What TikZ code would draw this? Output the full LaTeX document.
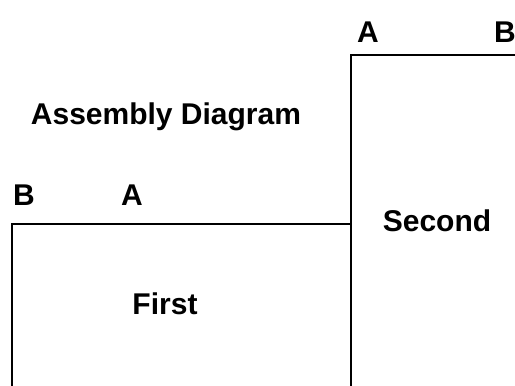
\documentclass[tikz,border=0pt]{standalone}
\usepackage{fontspec}
\setmainfont{Liberation Sans}
\begin{document}
\begin{tikzpicture}[x=1pt,y=-1pt,
  lbl/.style={font=\bfseries\fontsize{30}{34}\selectfont, inner sep=0pt, anchor=center},
  part/.style={draw=black, line width=2.3pt, fill=white}]
\useasboundingbox (0,0) rectangle (515,386);
\clip (0,0) rectangle (515,386);
\fill[white] (0,0) rectangle (515,386);
\draw[part] (12,224) rectangle (351,400);
\draw[part] (351,55) rectangle (530,400);
\node[lbl] (title) at (166,117) {Assembly Diagram};
\node[lbl] (b1) at (24,195) {B};
\node[lbl] (a1) at (132,195) {A};
\node[lbl] (first) at (165,304) {First};
\node[lbl] (second) at (437,221) {Second};
\node[lbl] (a2) at (368,32) {A};
\node[lbl] (b2) at (505,32) {B};
\end{tikzpicture}
\end{document}
